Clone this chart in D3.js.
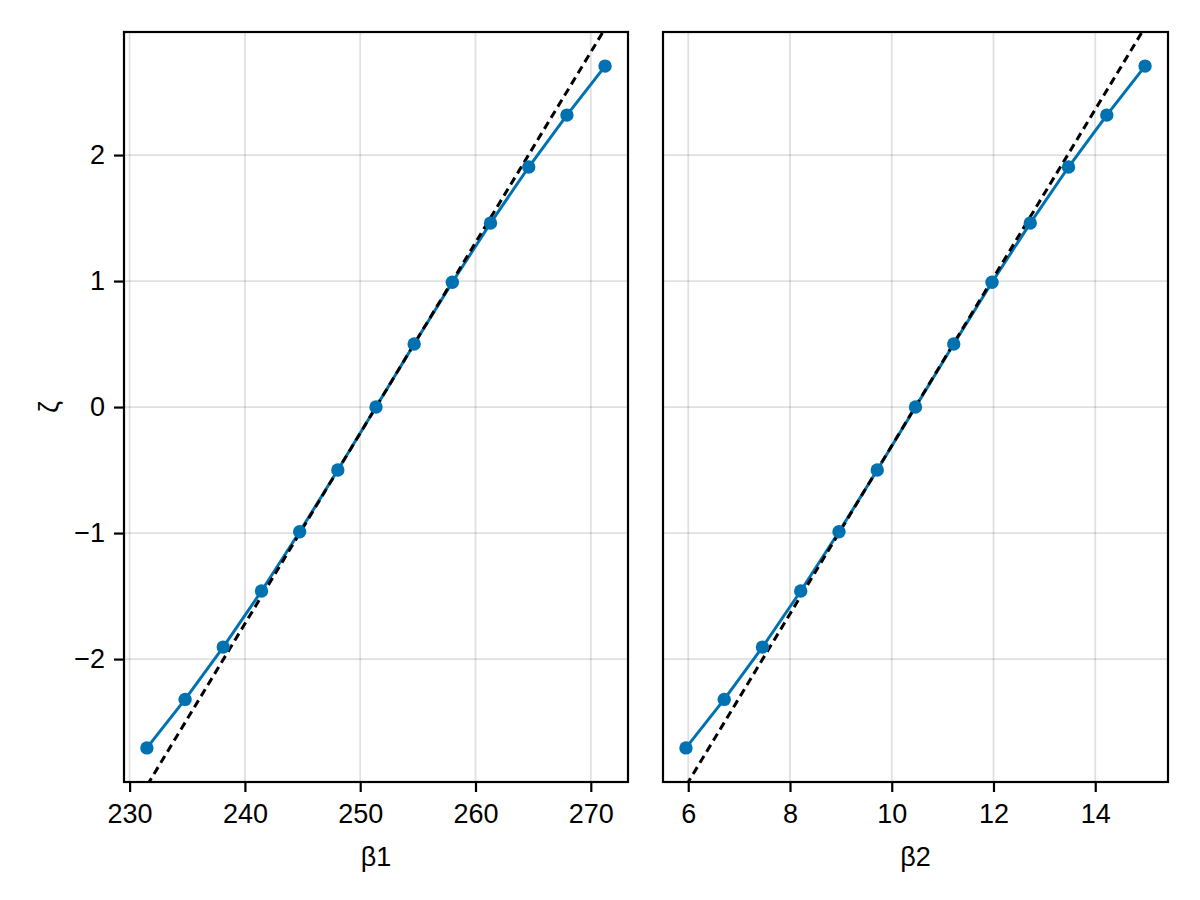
<!DOCTYPE html>
<html>
<head>
<meta charset="utf-8">
<script src="https://cdn.jsdelivr.net/npm/d3@7"></script>
<style>
  html, body { margin: 0; padding: 0; background: #fff; }
  svg { display: block; }
  text { font-family: "Liberation Sans", Arial, Helvetica, sans-serif; fill: #000; }
</style>
</head>
<body>
<svg id="chart" width="1200" height="900"></svg>
<script>
// ---- data ----
const zeta = [-2.705, -2.32, -1.905, -1.46, -0.99, -0.5, 0, 0.5, 0.99, 1.46, 1.905, 2.317, 2.706];
const beta1 = [231.50, 234.81, 238.12, 241.44, 244.75, 248.06, 251.37, 254.68, 257.99, 261.30, 264.62, 267.93, 271.24];
const beta2 = [5.955, 6.707, 7.459, 8.211, 8.963, 9.715, 10.467, 11.219, 11.971, 12.723, 13.475, 14.227, 14.979];
// dashed reference line endpoints (zeta, beta)
const refZeta = [-3, 3];
const refBeta1 = [231.53, 271.21];
const refBeta2 = [5.964, 14.956];
const yTicks = [-2, -1, 0, 1, 2];
const xTicks1 = [230, 240, 250, 260, 270];
const xTicks2 = [6, 8, 10, 12, 14];
const xLabels = ["β1", "β2"];
const yLabel = "ζ";

// ---- layout ----
const svg = d3.select("#chart");
const plotTop = 32, plotBottom = 782;
const panels = [
  { left: 124, right: 628, xs: beta1, ref: refBeta1, ticks: xTicks1, label: xLabels[0], showY: true },
  { left: 663, right: 1168, xs: beta2, ref: refBeta2, ticks: xTicks2, label: xLabels[1], showY: false }
];
const blue = "#0072B2";
const fontSize = 27;

function padded(ext) {
  const r = ext[1] - ext[0];
  return [ext[0] - 0.05 * r, ext[1] + 0.05 * r];
}

const y = d3.scaleLinear().domain(padded(d3.extent(zeta))).range([plotBottom, plotTop]);
const fmt = d => (d < 0 ? "\u2212" + Math.abs(d) : String(d));

panels.forEach((p, i) => {
  const x = d3.scaleLinear().domain(padded(d3.extent(p.xs))).range([p.left, p.right]);
  const g = svg.append("g");

  const clipId = "clip" + i;
  svg.append("defs").append("clipPath").attr("id", clipId)
    .append("rect").attr("x", p.left).attr("y", plotTop)
    .attr("width", p.right - p.left).attr("height", plotBottom - plotTop);

  // grid
  g.append("g").selectAll("line").data(p.ticks).join("line")
    .attr("x1", d => x(d)).attr("x2", d => x(d))
    .attr("y1", plotTop).attr("y2", plotBottom)
    .attr("stroke", "rgba(0,0,0,0.12)").attr("stroke-width", 1.8);
  g.append("g").selectAll("line").data(yTicks).join("line")
    .attr("x1", p.left).attr("x2", p.right)
    .attr("y1", d => y(d)).attr("y2", d => y(d))
    .attr("stroke", "rgba(0,0,0,0.12)").attr("stroke-width", 1.8);

  const plot = g.append("g").attr("clip-path", `url(#${clipId})`);

  const pts = p.xs.map((v, k) => [v, zeta[k]]);
  plot.append("path").datum(pts)
    .attr("fill", "none").attr("stroke", blue).attr("stroke-width", 3)
    .attr("d", d3.line().x(d => x(d[0])).y(d => y(d[1])));

  const ref = p.ref.map((v, k) => [v, refZeta[k]]);
  plot.append("path").datum(ref)
    .attr("fill", "none").attr("stroke", "#000").attr("stroke-width", 3)
    .attr("stroke-dasharray", "8,5")
    .attr("d", d3.line().x(d => x(d[0])).y(d => y(d[1])));

  plot.append("g").selectAll("circle").data(pts).join("circle")
    .attr("cx", d => x(d[0])).attr("cy", d => y(d[1])).attr("r", 6.7)
    .attr("fill", blue);

  // frame
  g.append("rect").attr("x", p.left).attr("y", plotTop)
    .attr("width", p.right - p.left).attr("height", plotBottom - plotTop)
    .attr("fill", "none").attr("stroke", "#000").attr("stroke-width", 2.2);

  // x axis
  const xAxis = d3.axisBottom(x).tickValues(p.ticks).tickSize(10).tickPadding(12).tickFormat(fmt);
  const xg = g.append("g").attr("transform", `translate(0,${plotBottom})`).call(xAxis);
  xg.select(".domain").remove();
  xg.selectAll(".tick line").attr("stroke", "#000").attr("stroke-width", 2.2);
  xg.selectAll(".tick text").attr("font-size", fontSize)
    .attr("font-family", "'Liberation Sans', Arial, sans-serif").attr("fill", "#000");

  g.append("text").attr("x", (p.left + p.right) / 2).attr("y", 866)
    .attr("text-anchor", "middle").attr("font-size", fontSize).text(p.label);

  if (p.showY) {
    const yAxis = d3.axisLeft(y).tickValues(yTicks).tickSize(10).tickPadding(9).tickFormat(fmt);
    const yg = g.append("g").attr("transform", `translate(${p.left},0)`).call(yAxis);
    yg.select(".domain").remove();
    yg.selectAll(".tick line").attr("stroke", "#000").attr("stroke-width", 2.2);
    yg.selectAll(".tick text").attr("font-size", fontSize)
      .attr("font-family", "'Liberation Sans', Arial, sans-serif").attr("fill", "#000");
    g.append("text").attr("transform", `translate(58,${y(0)}) rotate(-90)`)
      .attr("text-anchor", "middle").attr("font-size", fontSize).text(yLabel);
  }
});
</script>
</body>
</html>
